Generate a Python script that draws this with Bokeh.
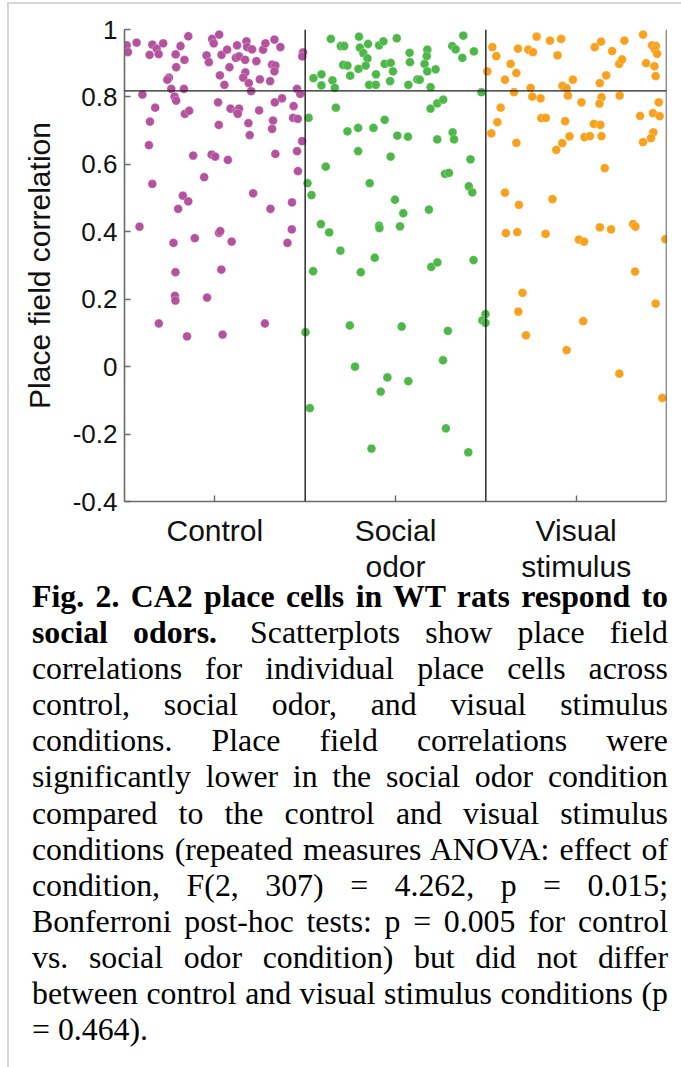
from bokeh.plotting import figure
from bokeh.models import Range1d, FixedTicker, CustomJSTickFormatter, Span, Div
from bokeh.layouts import column
from bokeh.embed import file_html
from bokeh.resources import INLINE

# ---------------- data ----------------
condition_pos = [1, 2, 3]
condition_labels = ["Control", "Social\nodor", "Visual\nstimulus"]
colors = ["#B5529F", "#4DB848", "#F8A11D"]
y_ticks = [-0.4, -0.2, 0, 0.2, 0.4, 0.6, 0.8, 1.0]
reference_level = 0.818

control_jitter = [-0.488, -0.481, -0.433, -0.346, -0.322, -0.286, -0.361, -0.311, -0.147, -0.190,
                  -0.217, -0.168, -0.214, -0.254, -0.263, -0.241, -0.171, -0.223, -0.214, -0.401,
                  -0.330, -0.359, -0.365, -0.346, -0.166, -0.142, -0.120, -0.018, 0.002, 0.072,
                  -0.059, -0.177, -0.147, -0.203, -0.015, 0.024, -0.006, -0.046, -0.033, 0.037,
                  0.068, 0.123, 0.175, 0.179, 0.206, 0.116, 0.134, 0.168, 0.081, 0.028,
                  0.053, 0.169, 0.157, 0.188, 0.201, 0.230, 0.249, 0.267, 0.280, 0.330,
                  0.363, 0.317, 0.335, 0.330, 0.306, 0.488, 0.484, 0.455, 0.473, 0.018,
                  0.022, 0.087, 0.120, 0.134, 0.127, 0.186, 0.193, 0.245, 0.332, 0.372,
                  0.322, 0.317, 0.436, 0.433, 0.459, 0.483, 0.455, 0.460, 0.335, 0.212,
                  0.308, 0.427, -0.417, -0.229, -0.111, 0.023, 0.030, 0.093, 0.426, 0.402,
                  -0.218, 0.036, -0.221, -0.218, -0.043, -0.310, -0.154, 0.043, 0.277]
control_corr = [0.953, 0.933, 0.961, 0.955, 0.943, 0.959, 0.925, 0.927, 0.980, 0.951,
                0.926, 0.910, 0.888, 0.857, 0.851, 0.824, 0.824, 0.801, 0.789, 0.807,
                0.768, 0.727, 0.657, 0.542, 0.750, 0.759, 0.626, 0.629, 0.623, 0.613,
                0.562, 0.507, 0.490, 0.468, 0.972, 0.985, 0.959, 0.923, 0.903, 0.925,
                0.940, 0.953, 0.965, 0.948, 0.941, 0.916, 0.920, 0.910, 0.888, 0.864,
                0.836, 0.873, 0.857, 0.841, 0.817, 0.906, 0.852, 0.940, 0.959, 0.970,
                0.948, 0.896, 0.893, 0.876, 0.847, 0.932, 0.920, 0.824, 0.809, 0.784,
                0.717, 0.765, 0.758, 0.765, 0.750, 0.722, 0.687, 0.760, 0.784, 0.796,
                0.730, 0.705, 0.773, 0.738, 0.735, 0.669, 0.639, 0.580, 0.631, 0.514,
                0.468, 0.487, 0.415, 0.367, 0.381, 0.397, 0.402, 0.371, 0.407, 0.367,
                0.280, 0.288, 0.210, 0.196, 0.205, 0.128, 0.090, 0.095, 0.128]

social_jitter = [-0.358, -0.202, -0.303, -0.284, -0.197, -0.152, -0.091, -0.067, 0.007, -0.178,
                 -0.155, -0.290, -0.266, -0.251, -0.205, -0.165, -0.108, -0.060, -0.027, -0.014,
                 -0.030, -0.146, -0.109, 0.078, 0.080, 0.176, 0.173, 0.161, 0.176, 0.222,
                 0.121, 0.134, 0.071, 0.194, 0.314, 0.333, 0.375, 0.370, 0.434, -0.454,
                 -0.410, -0.410, -0.349, -0.336, 0.476, -0.330, -0.481, -0.266, -0.207, -0.122,
                 -0.060, 0.010, 0.069, 0.194, 0.231, 0.264, 0.316, 0.324, 0.231, -0.207,
                 -0.027, -0.386, -0.143, 0.415, 0.274, 0.296, 0.406, 0.425, -0.487, -0.465,
                 -0.003, 0.043, 0.185, -0.413, -0.367, -0.091, -0.089, 0.025, -0.305, -0.115,
                 -0.456, -0.192, 0.198, 0.232, 0.432, -0.498, -0.253, 0.034, 0.290, 0.498,
                 0.481, 0.498, 0.263, -0.224, -0.045, 0.071, -0.082, -0.474, 0.279, -0.133,
                 0.403]
social_corr = [0.972, 0.979, 0.951, 0.951, 0.946, 0.957, 0.953, 0.965, 0.974, 0.930,
               0.914, 0.895, 0.893, 0.863, 0.883, 0.893, 0.867, 0.898, 0.901, 0.876,
               0.847, 0.836, 0.836, 0.931, 0.903, 0.940, 0.921, 0.898, 0.876, 0.882,
               0.852, 0.851, 0.836, 0.829, 0.951, 0.941, 0.982, 0.916, 0.935, 0.856,
               0.867, 0.834, 0.849, 0.827, 0.814, 0.768, 0.738, 0.698, 0.708, 0.708,
               0.732, 0.685, 0.682, 0.765, 0.781, 0.792, 0.695, 0.674, 0.674, 0.639,
               0.623, 0.593, 0.544, 0.615, 0.572, 0.575, 0.535, 0.517, 0.544, 0.509,
               0.495, 0.455, 0.466, 0.423, 0.398, 0.418, 0.411, 0.416, 0.344, 0.323,
               0.283, 0.280, 0.296, 0.309, 0.316, 0.102, 0.122, 0.119, 0.106, 0.156,
               0.137, 0.130, 0.019, 0.000, -0.032, -0.043, -0.074, -0.123, -0.183, -0.243,
               -0.254]

visual_jitter = [-0.464, -0.442, -0.492, -0.394, -0.363, -0.322, -0.331, -0.265, -0.239, -0.219,
                 -0.145, -0.083, -0.103, -0.344, -0.252, -0.243, -0.197, -0.418, -0.436, -0.470,
                 -0.331, -0.193, -0.168, -0.061, -0.076, -0.053, -0.046, -0.018, -0.037, -0.077,
                 -0.110, 0.029, 0.103, 0.138, 0.199, 0.267, 0.166, 0.131, 0.140, 0.129,
                 0.098, 0.134, 0.140, 0.046, 0.076, 0.241, 0.238, 0.254, 0.370, 0.420,
                 0.442, 0.435, 0.448, 0.387, 0.433, 0.440, 0.457, 0.425, 0.462, 0.354,
                 0.427, 0.414, 0.370, 0.158, -0.394, -0.317, -0.131, -0.389, -0.326, -0.169,
                 0.015, 0.044, 0.131, 0.193, 0.315, 0.328, 0.494, 0.326, -0.297, -0.320,
                 0.440, 0.039, -0.278, -0.053, 0.239, 0.477]
visual_corr = [0.948, 0.921, 0.876, 0.851, 0.898, 0.943, 0.871, 0.940, 0.933, 0.979,
               0.967, 0.972, 0.923, 0.814, 0.827, 0.801, 0.796, 0.768, 0.725, 0.692,
               0.664, 0.737, 0.738, 0.728, 0.833, 0.826, 0.804, 0.851, 0.683, 0.663,
               0.643, 0.784, 0.948, 0.964, 0.936, 0.967, 0.864, 0.841, 0.799, 0.780,
               0.720, 0.717, 0.684, 0.681, 0.684, 0.804, 0.898, 0.911, 0.985, 0.953,
               0.951, 0.941, 0.928, 0.900, 0.891, 0.862, 0.784, 0.752, 0.743, 0.744,
               0.695, 0.678, 0.666, 0.589, 0.516, 0.480, 0.497, 0.396, 0.399, 0.394,
               0.377, 0.371, 0.413, 0.407, 0.423, 0.415, 0.378, 0.282, 0.219, 0.163,
               0.187, 0.135, 0.093, 0.049, -0.021, -0.093]

groups = [(control_jitter, control_corr), (social_jitter, social_corr), (visual_jitter, visual_corr)]

caption_html = (
    '<b style="margin-right:8px">Fig. 2. CA2 place cells in WT rats respond to social odors.</b> '
    "Scatterplots show place field correlations for individual place cells across control, "
    "social odor, and visual stimulus conditions. Place field correlations were significantly "
    "lower in the social odor condition compared to the control and visual stimulus conditions "
    "(repeated measures ANOVA: effect of condition, F(2, 307) = 4.262, p = 0.015; Bonferroni "
    "post-hoc tests: p = 0.005 for control vs. social odor condition) but did not differ between "
    "control and visual stimulus conditions (p = 0.464)."
)

# ---------------- figure ----------------
SANS = "Liberation Sans"
p = figure(frame_width=542, frame_height=472,
           x_range=Range1d(0.5, 3.5), y_range=Range1d(-0.4, 1.0),
           output_backend="svg", toolbar_location=None,
           min_border_left=115, min_border_right=4, min_border_top=25, min_border_bottom=95)
p.outline_line_color = None
p.xgrid.visible = False
p.ygrid.visible = False
p.background_fill_color = "white"
p.border_fill_color = "white"

for pos, col, (jit, vals) in zip(condition_pos, colors, groups):
    xs = [pos + j for j in jit]
    p.scatter(xs, vals, size=8.8, fill_color=col, line_color="white", line_alpha=0.45, line_width=0.6)

for loc in [1.5, 2.5, 3.5]:
    p.add_layout(Span(location=loc, dimension="height", line_color="#1e1e1e", line_width=1.4))
p.add_layout(Span(location=reference_level, dimension="width", line_color="#1e1e1e", line_width=1.4))

# y axis
ya = p.yaxis[0]
ya.ticker = FixedTicker(ticks=y_ticks)
ya.formatter = CustomJSTickFormatter(code="return (Math.round(tick*10)/10).toString();")
ya.axis_label = "Place field correlation"
ya.axis_label_text_font = SANS
ya.axis_label_text_font_size = "30px"
ya.axis_label_text_font_style = "normal"
ya.axis_label_text_color = "#111111"
ya.axis_label_standoff = 14
ya.major_label_text_font = SANS
ya.major_label_text_font_size = "26px"
ya.major_label_text_color = "#111111"
ya.major_label_standoff = 7
ya.major_tick_in = 6
ya.major_tick_out = 0
ya.minor_tick_line_color = None
ya.axis_line_color = "#6a6a6a"
ya.axis_line_width = 1.6
ya.major_tick_line_color = "#6a6a6a"
ya.major_tick_line_width = 1.4

# x axis
xa = p.xaxis[0]
xa.ticker = FixedTicker(ticks=condition_pos)
xa.major_label_overrides = {k: v for k, v in zip(condition_pos, condition_labels)}
xa.major_label_text_font = SANS
xa.major_label_text_font_size = "30px"
xa.major_label_text_color = "#111111"
xa.major_label_text_line_height = 1.12
xa.major_label_standoff = 12
xa.major_tick_in = 6
xa.major_tick_out = 0
xa.minor_tick_line_color = None
xa.axis_line_color = "#6a6a6a"
xa.axis_line_width = 1.6
xa.major_tick_line_color = "#6a6a6a"
xa.major_tick_line_width = 1.4

caption = Div(
    text=('<div style="position:relative; top:-22px; width:636px; margin-left:18px; '
          'text-align:justify; font-family:\'Liberation Serif\', \'Times New Roman\', serif; '
          'font-size:31.8px; line-height:36.1px; color:#000;">' + caption_html + '</div>'),
    width=670,
)

layout = column(p, caption,
                styles={"border-left": "2px solid #d6d6d6", "border-top": "2px solid #d6d6d6",
                        "margin-left": "7px", "margin-top": "2px", "background-color": "white"})

open("out.html", "w").write(file_html(layout, INLINE))
